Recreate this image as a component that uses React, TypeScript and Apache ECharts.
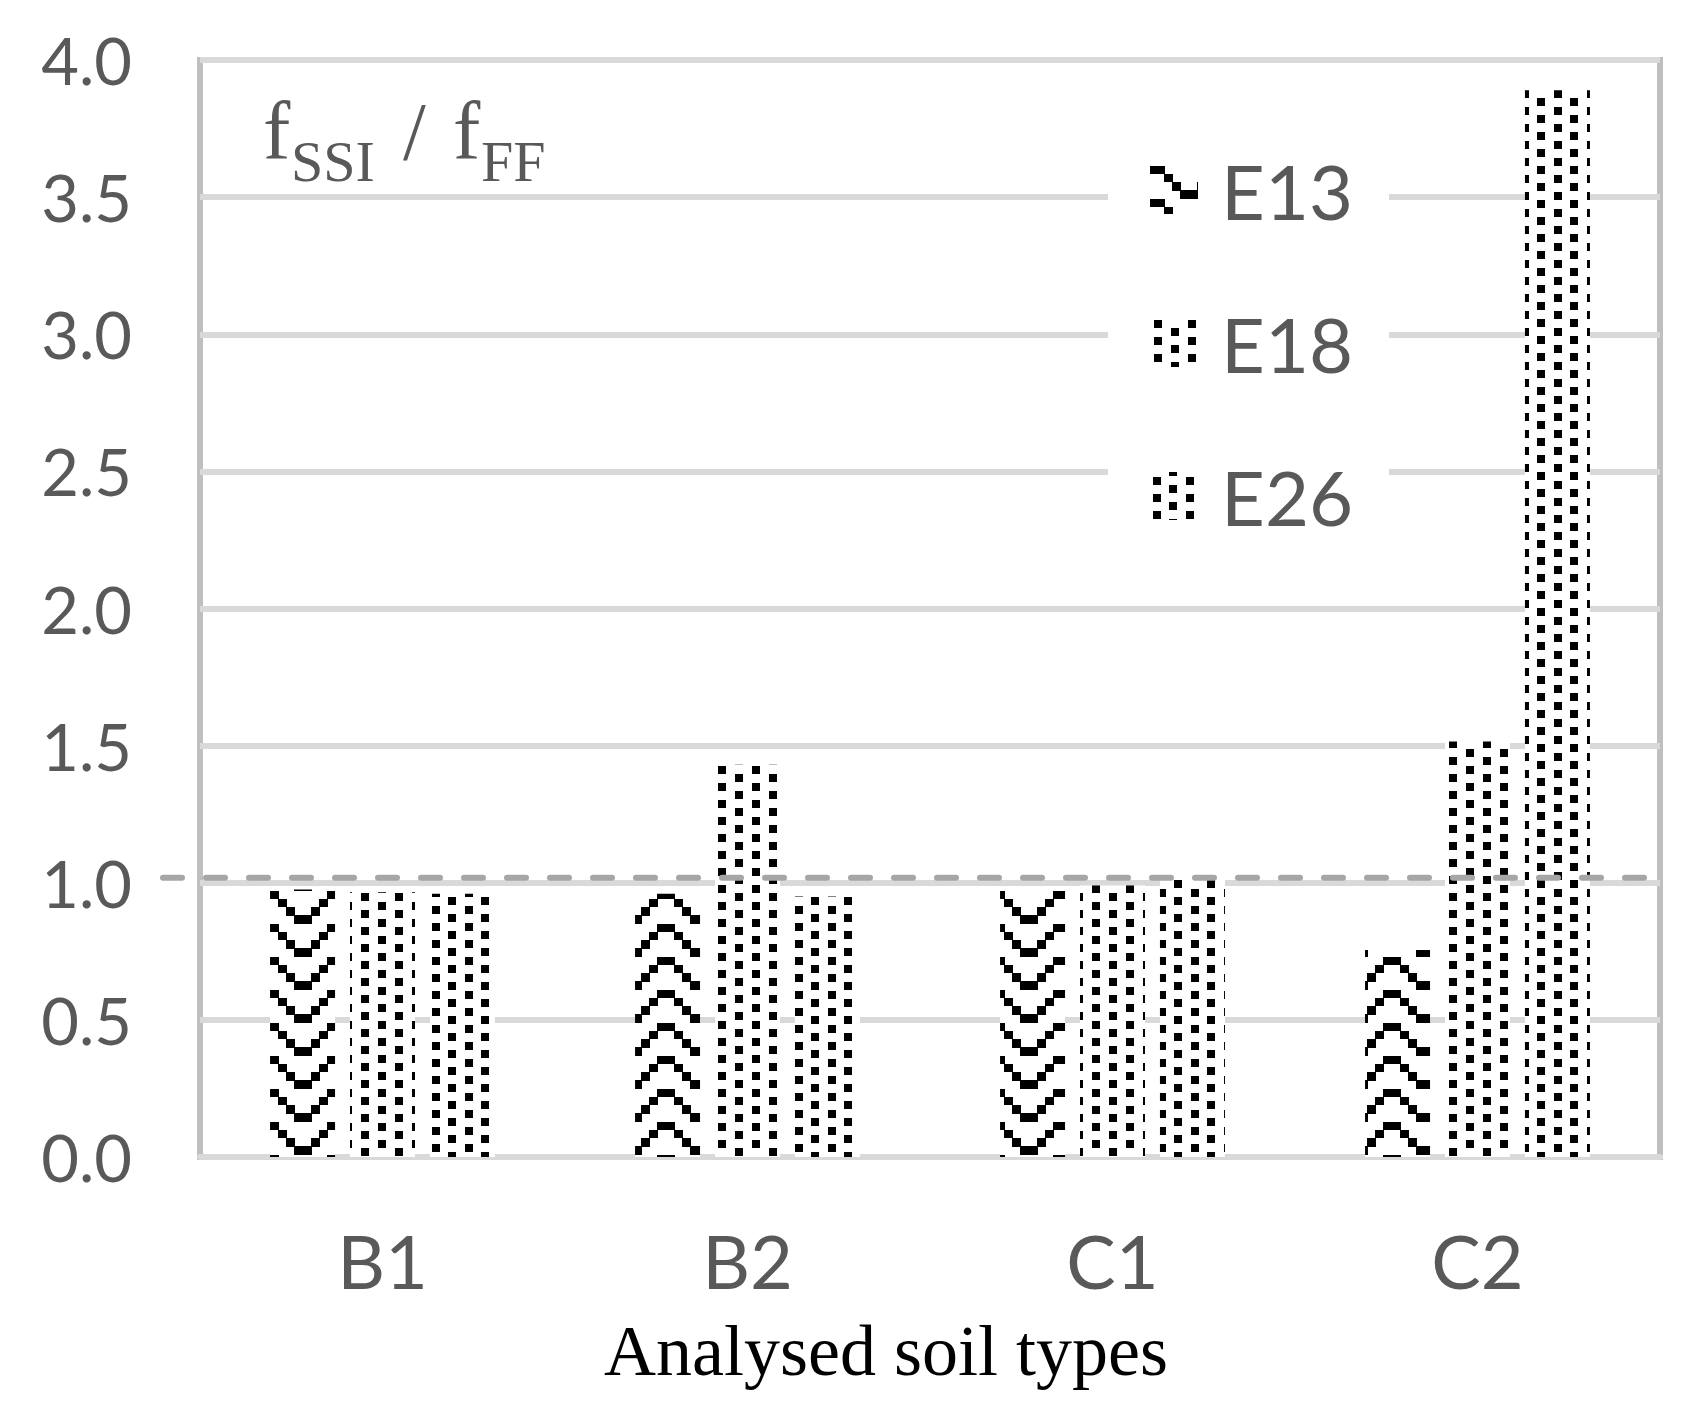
import React, { useEffect, useRef } from "react";
import * as echarts from "echarts";

// ---- data ----
const categories = ["B1", "B2", "C1", "C2"];
const seriesNames = ["E13", "E18", "E26"];
const e13Values = [0.975, 0.96, 0.97, 0.755];
const e18Values = [0.965, 1.43, 0.99, 1.515];
const e26Values = [0.96, 0.95, 1.01, 3.89];
const yMin = 0;
const yMax = 4;
const yInterval = 0.5;
const referenceValue = 1.0;
const xAxisTitle = "Analysed soil types";

function svgUrl(w: number, h: number, body: string) {
  const svg = `<svg xmlns="http://www.w3.org/2000/svg" width="${w}" height="${h}" viewBox="0 0 ${w} ${h}" shape-rendering="crispEdges"><rect width="${w}" height="${h}" fill="#ffffff"/>${body}</svg>`;
  return "data:image/svg+xml;charset=utf-8," + encodeURIComponent(svg);
}

function rects(list: number[][], color = "#000") {
  return list.map(([x, y, w, h]) => `<rect x="${x}" y="${y}" width="${w}" height="${h}" fill="${color}"/>`).join("");
}

// chevron (zigzag) pattern, period 66 x 33
function chevronPattern() {
  const v = [
    [0, 0, 9, 8], [57, 0, 9, 8],
    [8, 8, 9, 8], [49, 8, 9, 8],
    [16, 16, 9, 9], [41, 16, 9, 9],
    [24, 24, 18, 9],
  ];
  const dx = 6;
  const body = `<g transform="translate(${dx},0)">${rects(v)}</g><g transform="translate(${dx - 66},0)">${rects(v)}</g>`;
  return { image: svgUrl(66, 33, body), repeat: "repeat", imageWidth: 66, imageHeight: 33 };
}

function dotPattern(w: number, h: number, pts: number[][]) {
  const body = rects(pts.map(([x, y]) => [x, y, 8, 8]));
  return { image: svgUrl(w, h, body), repeat: "repeat", imageWidth: w, imageHeight: h };
}

export default function App() {
  const ref = useRef<HTMLDivElement>(null);

  useEffect(() => {
    document.body.style.margin = "0";
    if (!ref.current) return;
    const chart = echarts.init(ref.current, null, { renderer: "svg" });

    const patterns = [
      chevronPattern(),
      dotPattern(34, 17, [[4, 1], [21, 9]]),
      dotPattern(33, 17, [[3, 5], [19, 13], [19, -4]]),
    ];
    const values = [e13Values, e18Values, e26Values];

    const option: any = {
      animation: false,
      backgroundColor: "#ffffff",
      grid: {
        left: 200,
        right: 25,
        top: 60,
        bottom: 262,
        show: true,
        borderColor: "#bfbfbf",
        borderWidth: 6,
        backgroundColor: "transparent",
      },
      legend: {
        orient: "vertical",
        left: 1108,
        top: 112,
        padding: [40, 36, 40, 42],
        backgroundColor: "#ffffff",
        itemWidth: 48,
        itemHeight: 48,
        itemGap: 77,
        icon: "rect",
        data: seriesNames,
        textStyle: {
          fontFamily: "Lato",
          fontSize: 76,
          color: "#595959",
          padding: [0, 0, 0, 18],
        },
      },
      xAxis: {
        type: "category",
        data: categories,
        axisLine: { show: true, lineStyle: { color: "#d9d9d9", width: 6 } },
        axisTick: { show: false },
        axisLabel: { fontFamily: "Lato", fontSize: 74, color: "#595959", margin: 66 },
        splitLine: { show: false },
      },
      yAxis: {
        type: "value",
        min: yMin,
        max: yMax,
        interval: yInterval,
        axisLine: { show: false },
        axisTick: { show: false },
        axisLabel: {
          fontFamily: "Lato",
          fontSize: 65,
          color: "#595959",
          margin: 68,
          formatter: (v: number) => v.toFixed(1),
        },
        splitLine: { show: true, lineStyle: { color: "#d9d9d9", width: 6 } },
      },
      series: seriesNames.map((name, i) => ({
        name,
        type: "bar",
        data: values[i],
        barWidth: 65,
        barGap: "23%",
        itemStyle: { color: patterns[i], borderWidth: 0 },
        emphasis: { disabled: true },
      })),
    };
    chart.setOption(option);

    const yRef = chart.convertToPixel({ yAxisIndex: 0 }, referenceValue) as number;
    const serif = "'Liberation Serif', 'Times New Roman', serif";
    const txt = (text: string, x: number, y: number, size: number, fill: string, align = "left") => ({
      type: "text",
      x,
      y,
      z: 100,
      style: {
        text,
        fontFamily: serif,
        fontSize: size,
        fill,
        align,
        verticalAlign: "middle",
        textAlign: align,
        textVerticalAlign: "middle",
      },
    });

    chart.setOption({
      graphic: {
        elements: [
          {
            type: "line",
            z: 100,
            shape: { x1: 163, y1: yRef - 5, x2: 1665, y2: yRef - 5 },
            style: { stroke: "#a6a6a6", lineWidth: 6, lineDash: [19, 24], lineCap: "round" },
          },
          txt("f", 263, 131, 82, "#595959"),
          txt("SSI", 291, 161, 58, "#595959"),
          txt("/", 403, 131, 82, "#595959"),
          txt("f", 453, 131, 82, "#595959"),
          txt("FF", 481, 161, 58, "#595959"),
          txt(xAxisTitle, 886, 1351, 72, "#000000", "center"),
        ],
      },
    });

    return () => chart.dispose();
  }, []);

  return (
    <div
      ref={ref}
      style={{ position: "absolute", left: 0, top: 0, width: 1685, height: 1419 }}
    />
  );
}
